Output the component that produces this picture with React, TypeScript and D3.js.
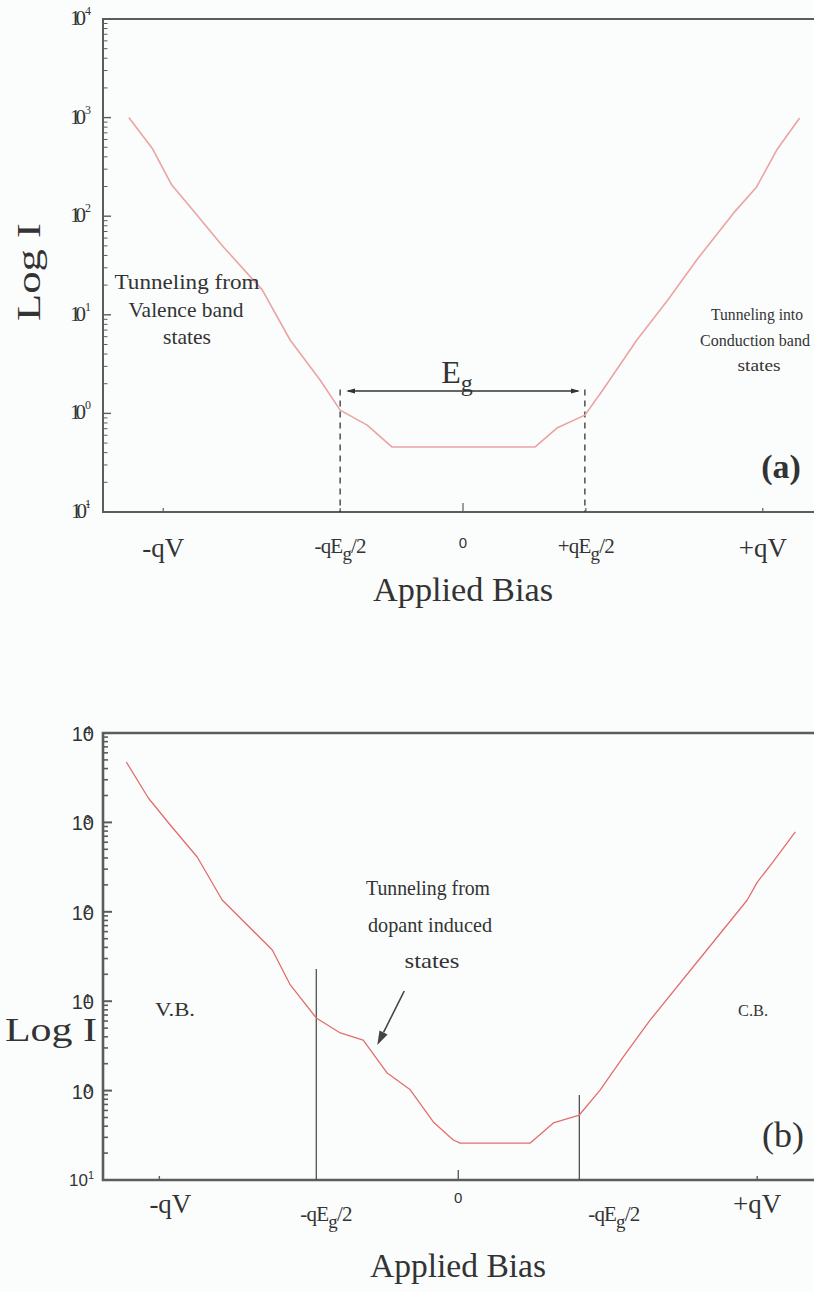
import React from "react";
import * as d3 from "d3";

// Panel (a): ideal tunnelling I-V curve (bias in units of qEg/2, current in arb. units)
const biasA = [-2.72, -2.53, -2.37, -2.22, -1.95, -1.634, -1.407, -1.163, -1.0, -0.78, -0.577, 0.585, 0.764, 0.992, 1.138, 1.415, 1.667, 1.902, 2.203, 2.39, 2.553, 2.74];
const currentA = [1000, 490, 207, 124, 48.8, 17.9, 5.55, 2.18, 1.08, 0.76, 0.456, 0.456, 0.71, 0.96, 1.73, 5.55, 14.1, 36.0, 108, 198, 469, 990];

// Panel (b): curve with dopant-induced states inside the gap
const biasB = [-2.71, -2.53, -2.351, -2.131, -1.927, -1.518, -1.371, -1.159, -0.963, -0.776, -0.58, -0.392, -0.204, -0.041, 0.016, 0.588, 0.776, 0.988, 1.159, 1.347, 1.567, 1.976, 2.359, 2.441, 2.563, 2.751];
const currentB = [4740, 1875, 935, 410, 135.5, 37.4, 15.2, 6.49, 4.41, 3.68, 1.57, 1.02, 0.446, 0.28, 0.259, 0.259, 0.435, 0.533, 1.02, 2.38, 6.17, 30.4, 135.5, 215, 352, 782];

// y-axis decades shared by both panels
const decades = [-1, 0, 1, 2, 3, 4];

// x tick positions and labels
const xTickA = [-2.44, -1, 0, 1, 2.44];
const xLabelA = ["-qV", "-qEg/2", "0", "+qEg/2", "+qV"];
const xTickB = [-2.44, 0, 2.44];
const xLabelPosB = [-2.35, -1.08, 0, 1.27, 2.44];
const xLabelB = ["-qV", "-qEg/2", "0", "-qEg/2", "+qV"];

// gap edges
const gapEdgesA = [-1.0, 0.992];
const gapTopA = 1.75;
const egSpan = [-0.936, 0.936];
const egLevel = 1.69;
const gapEdgesB = [-1.159, 0.988];
const gapTopsB = [22.9, 0.89];

// arrow towards the dopant shoulder
const arrowFrom = [-0.441, 13.0];
const arrowTo = [-0.661, 3.24];

const serif = "'Liberation Serif', 'Times New Roman', serif";
const sans = "'Liberation Sans', Arial, sans-serif";
const axisColor = "#5a5c5e";
const ink = "#333";

const xA = d3.scaleLinear().domain([-2.93, 2.93]).range([103, 823]);
const yA = d3.scaleLog().domain([0.1, 1e4]).range([512, 19]);
const xB = d3.scaleLinear().domain([-2.9, 2.92]).range([103, 816]);
const yB = d3.scaleLog().domain([0.1, 1e4]).range([1180, 733]);

function minorTicks(): number[] {
  const out: number[] = [];
  for (let d = -1; d < 4; d++) {
    for (let k = 2; k <= 9; k++) out.push(k * Math.pow(10, d));
  }
  return out;
}

function BiasLabel({ x, y, text, size }: { x: number; y: number; text: string; size: number }) {
  // renders "qEg/2" style labels with a subscript g
  const idx = text.indexOf("Eg");
  if (idx < 0) {
    return (
      <text x={x} y={y} textAnchor="middle" fontFamily={serif} fontSize={size} fill={ink}>
        {text}
      </text>
    );
  }
  const pre = text.slice(0, idx + 1);
  const post = text.slice(idx + 2);
  return (
    <text x={x} y={y} textAnchor="middle" fontFamily={serif} fontSize={size} fill={ink} letterSpacing={-0.8}>
      {pre}
      <tspan fontSize={size * 0.9} dy={size * 0.32}>g</tspan>
      <tspan fontSize={size} dy={-size * 0.32}>{post}</tspan>
    </text>
  );
}

function Line({ x, y, len, size, children }: { x: number; y: number; len: number; size: number; children: string }) {
  return (
    <text x={x} y={y} textAnchor="middle" fontFamily={serif} fontSize={size} fill={ink} textLength={len} lengthAdjust="spacingAndGlyphs">
      {children}
    </text>
  );
}

export default function App() {
  const lineA = d3
    .line<number>()
    .x((_, i) => xA(biasA[i]))
    .y((d) => yA(d));
  const lineB = d3
    .line<number>()
    .x((_, i) => xB(biasB[i]))
    .y((d) => yB(d));

  const minors = minorTicks();

  // arrow geometry for panel (b)
  const ax0 = xB(arrowFrom[0]);
  const ay0 = yB(arrowFrom[1]);
  const ax1 = xB(arrowTo[0]);
  const ay1 = yB(arrowTo[1]);
  const ang = Math.atan2(ay1 - ay0, ax1 - ax0);
  const headLen = 14;
  const headW = 4.5;
  const bx = ax1 - headLen * Math.cos(ang);
  const by = ay1 - headLen * Math.sin(ang);
  const head = [
    [ax1, ay1],
    [bx + headW * Math.sin(ang), by - headW * Math.cos(ang)],
    [bx - headW * Math.sin(ang), by + headW * Math.cos(ang)],
  ];

  // Eg double arrow geometry in panel (a)
  const egY = yA(egLevel);
  const egX0 = xA(egSpan[0]);
  const egX1 = xA(egSpan[1]);

  return (
    <svg
      width={814}
      height={1292}
      style={{ position: "absolute", left: 0, top: 0, background: "#fbfdfd" }}
    >
      {/* ---------- panel (a) ---------- */}
      <g>
        <path
          d={`M${xA.range()[1]},${yA(1e4)} H${xA(-2.93)} V${yA(0.1)} H${xA.range()[1]}`}
          fill="none"
          stroke={axisColor}
          strokeWidth={2}
        />
        {decades.map((d) => (
          <line key={`ma${d}`} x1={104} x2={111} y1={yA(Math.pow(10, d))} y2={yA(Math.pow(10, d))} stroke={axisColor} strokeWidth={1.4} />
        ))}
        {minors.map((v, i) => (
          <line key={`mia${i}`} x1={104} x2={107.5} y1={yA(v)} y2={yA(v)} stroke={axisColor} strokeWidth={1} />
        ))}
        {decades.map((d) => (
          <text key={`la${d}`} x={86} y={yA(Math.pow(10, d)) + 6} textAnchor="end" fontFamily={serif} fontSize={21} fill={ink} letterSpacing={-5}>
            10
            <tspan fontSize={12} dy={-10} dx={4}>{d < 0 ? "-1" : String(d)}</tspan>
          </text>
        ))}
        {xTickA.map((t, i) => (
          <line key={`xta${i}`} x1={xA(t)} x2={xA(t)} y1={yA(0.1)} y2={yA(0.1) - (t === 0 ? 9 : 4)} stroke={axisColor} strokeWidth={1.2} />
        ))}
        {xTickA.map((t, i) =>
          xLabelA[i] === "0" ? (
            <text key={`xla${i}`} x={xA(t)} y={548} textAnchor="middle" fontFamily={sans} fontSize={15} fill={ink}>0</text>
          ) : (
            <BiasLabel key={`xla${i}`} x={xA(t)} y={i === 0 || i === 4 ? 557 : 553} text={xLabelA[i]} size={i === 0 || i === 4 ? 27 : 21} />
          )
        )}
        {gapEdgesA.map((g, i) => (
          <line key={`ga${i}`} x1={xA(g)} x2={xA(g)} y1={yA(gapTopA)} y2={yA(0.1)} stroke={ink} strokeWidth={1.3} strokeDasharray="6,5" />
        ))}
        <line x1={egX0} x2={egX1} y1={egY} y2={egY} stroke={ink} strokeWidth={1.6} />
        <path d={`M${egX0 - 2},${egY} l9,-2.5 v5 z`} fill={ink} />
        <path d={`M${egX1 + 2},${egY} l-9,-2.5 v5 z`} fill={ink} />
        <text x={xA(0) - 6} y={egY - 8} textAnchor="middle" fontFamily={serif} fontSize={32} fill={ink}>
          E<tspan fontSize={24} dy={8}>g</tspan>
        </text>
        <path d={lineA(currentA) ?? ""} fill="none" stroke="#eba3a3" strokeWidth={1.6} strokeLinejoin="round" />
        <Line x={187} y={289} len={145} size={21}>Tunneling from</Line>
        <Line x={186} y={317} len={115} size={21}>Valence band</Line>
        <Line x={187} y={344} len={48} size={21}>states</Line>
        <Line x={757} y={320} len={92} size={16}>Tunneling into</Line>
        <Line x={755} y={346} len={110} size={16}>Conduction band</Line>
        <Line x={759} y={371} len={43} size={16}>states</Line>
        <text x={781} y={478} textAnchor="middle" fontFamily={serif} fontSize={34} fontWeight="bold" fill={ink}>(a)</text>
        <text
          transform={`translate(40,272) rotate(-90)`}
          textAnchor="middle"
          fontFamily={serif}
          fontSize={34}
          fill={ink}
          textLength={98}
          lengthAdjust="spacingAndGlyphs"
        >
          Log I
        </text>
        <text x={463} y={601} textAnchor="middle" fontFamily={serif} fontSize={34} fill={ink} textLength={180} lengthAdjust="spacingAndGlyphs">
          Applied Bias
        </text>
      </g>

      {/* ---------- panel (b) ---------- */}
      <g>
        <path
          d={`M${xB.range()[1]},${yB(1e4)} H${xB(-2.9)} V${yB(0.1)} H${xB.range()[1]}`}
          fill="none"
          stroke={axisColor}
          strokeWidth={2.6}
        />
        {decades.map((d) => (
          <line key={`mb${d}`} x1={104} x2={112} y1={yB(Math.pow(10, d))} y2={yB(Math.pow(10, d))} stroke={axisColor} strokeWidth={2} />
        ))}
        {minors.map((v, i) => (
          <line key={`mib${i}`} x1={104} x2={108} y1={yB(v)} y2={yB(v)} stroke={axisColor} strokeWidth={1.6} />
        ))}
        {decades.map((d) =>
          d < 0 ? (
            <text key={`lb${d}`} x={94} y={yB(0.1) + 6} textAnchor="end" fontFamily={sans} fontSize={17} fill={ink}>
              10<tspan fontSize={11} dy={-7}>1</tspan>
            </text>
          ) : (
            <text key={`lb${d}`} x={94} y={yB(Math.pow(10, d)) + 8} textAnchor="end" fontFamily={sans} fontSize={20} fill={ink}>
              10<tspan fontSize={13} dx={-10} dy={-6}>{String(d)}</tspan>
            </text>
          )
        )}
        {xTickB.map((t, i) => (
          <line key={`xtb${i}`} x1={xB(t)} x2={xB(t)} y1={yB(0.1)} y2={yB(0.1) - (t === 0 ? 10 : 4)} stroke={axisColor} strokeWidth={1.4} />
        ))}
        {xLabelPosB.map((t, i) =>
          xLabelB[i] === "0" ? (
            <text key={`xlb${i}`} x={xB(t)} y={1203} textAnchor="middle" fontFamily={sans} fontSize={15} fill={ink}>0</text>
          ) : (
            <BiasLabel key={`xlb${i}`} x={xB(t)} y={i === 0 || i === 4 ? 1213 : 1221} text={xLabelB[i]} size={i === 0 || i === 4 ? 27 : 21} />
          )
        )}
        {gapEdgesB.map((g, i) => (
          <line key={`gb${i}`} x1={xB(g)} x2={xB(g)} y1={yB(gapTopsB[i])} y2={yB(0.1)} stroke="#444" strokeWidth={1.2} />
        ))}
        <path d={lineB(currentB) ?? ""} fill="none" stroke="#e36d6d" strokeWidth={1.3} strokeLinejoin="round" />
        <line x1={ax0} y1={ay0} x2={bx} y2={by} stroke="#444" strokeWidth={1.6} />
        <polygon points={head.map((p) => p.join(",")).join(" ")} fill="#444" />
        <Line x={428} y={895} len={124} size={22}>Tunneling from</Line>
        <Line x={430} y={932} len={124} size={22}>dopant  induced</Line>
        <Line x={432} y={968} len={55} size={22}>states</Line>
        <Line x={175} y={1016} len={40} size={19}>V.B.</Line>
        <Line x={753} y={1016} len={30} size={16}>C.B.</Line>
        <text x={783} y={1147} textAnchor="middle" fontFamily={serif} fontSize={36} fill={ink}>(b)</text>
        <text x={51} y={1041} textAnchor="middle" fontFamily={serif} fontSize={33} fill={ink} textLength={92} lengthAdjust="spacingAndGlyphs">
          Log I
        </text>
        <text x={458} y={1277} textAnchor="middle" fontFamily={serif} fontSize={34} fill={ink} textLength={176} lengthAdjust="spacingAndGlyphs">
          Applied Bias
        </text>
      </g>
    </svg>
  );
}
